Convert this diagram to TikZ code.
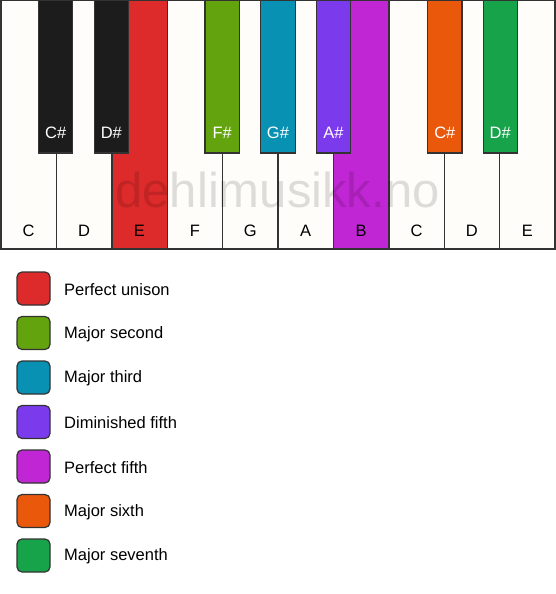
\documentclass[tikz,border=0pt]{standalone}
\usepackage{fontspec}
\setmainfont{Liberation Sans}
\begin{document}
\begin{tikzpicture}[x=1pt,y=-1pt,
  keyedge/.style={draw=keyline,line width=1.4pt},
  blackkey/.style={draw=keyline,line width=1.2pt},
  wlabel/.style={font=\fontsize{16.5}{16.5}\selectfont,text=black,anchor=base},
  blabel/.style={font=\fontsize{16.5}{16.5}\selectfont,text=white,anchor=base},
  legbox/.style={draw=keyline,line width=1.2pt,rounded corners=5pt,minimum width=33pt,minimum height=33pt,inner sep=0pt},
  legtext/.style={font=\fontsize{16.5}{16.5}\selectfont,anchor=west,inner sep=0pt}]
\definecolor{keyline}{HTML}{333333}
\definecolor{keywhite}{HTML}{FFFDF9}
\definecolor{keyblack}{HTML}{1C1C1C}
\definecolor{cred}{HTML}{DD2A2A}
\definecolor{cgreen}{HTML}{63A30D}
\definecolor{cteal}{HTML}{0891B2}
\definecolor{cpurple}{HTML}{7C3AED}
\definecolor{cmag}{HTML}{C026D3}
\definecolor{corange}{HTML}{EA580C}
\definecolor{cgreen2}{HTML}{16A34A}
\useasboundingbox (0,0) rectangle (556,594);
\fill[white] (0,0) rectangle (556,594);
% white keys: fills
\foreach \i/\c in {0/keywhite,1/keywhite,2/cred,3/keywhite,4/keywhite,5/keywhite,6/cmag,7/keywhite,8/keywhite,9/keywhite}{
  \fill[\c] ({1+\i*55.4},0.7) rectangle ({1+(\i+1)*55.4},249);
}
% white keys: edges
\foreach \i in {0,...,9}{
  \draw[keyedge] ({1+\i*55.4},0.7) rectangle ({1+(\i+1)*55.4},249);
}
% white key labels
\foreach \i/\n in {0/C,1/D,2/E,3/F,4/G,5/A,6/B,7/C,8/D,9/E}{
  \node[wlabel] (w\i) at ({1+(\i+0.5)*55.4},236) {\n};
}
% watermark
\node[font=\fontsize{49}{49}\selectfont,text=black,text opacity=0.13,anchor=base] (wm) at (277.5,207) {dehlimusikk.no};
% black keys
\foreach \x/\n/\c/\k in {38.5/C\#/keyblack/1,94.2/D\#/keyblack/2,205/F\#/cgreen/3,260.8/G\#/cteal/4,316.3/A\#/cpurple/5,427.7/C\#/corange/6,483.1/D\#/cgreen2/7}{
  \draw[blackkey,fill=\c] (\x,0.7) rectangle ({\x+34.3},153);
  \node[blabel] (b\k) at ({\x+17.15},138) {\n};
}
% legend
\foreach \j/\c/\t in {0/cred/Perfect unison,1/cgreen/Major second,2/cteal/Major third,3/cpurple/Diminished fifth,4/cmag/Perfect fifth,5/corange/Major sixth,6/cgreen2/Major seventh}{
  \node[legbox,fill=\c] (l\j) at (33.5,{288.5+\j*44.5}) {};
  \node[legtext] (t\j) at (64,{289.5+\j*44.5}) {\t};
}
\end{tikzpicture}
\end{document}
